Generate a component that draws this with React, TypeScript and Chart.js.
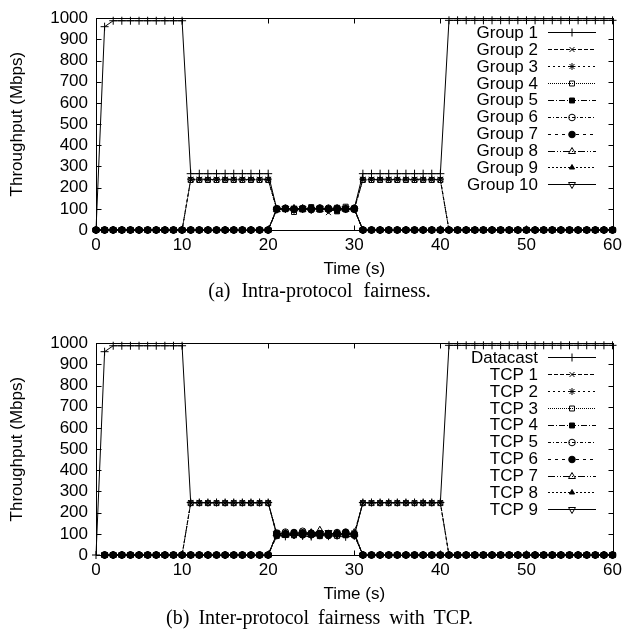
import React, { useEffect, useRef } from 'react';
import { Chart, registerables } from 'chart.js';
import { drawPoint } from 'chart.js/helpers';

Chart.register(...registerables);

// ---------- data ----------
const TIME = [
  0, 1, 2, 3, 4, 5, 6, 7, 8, 9, 10,
  11, 12, 13, 14, 15, 16, 17, 18, 19, 20,
  21, 22, 23, 24, 25, 26, 27, 28, 29, 30,
  31, 32, 33, 34, 35, 36, 37, 38, 39, 40,
  41, 42, 43, 44, 45, 46, 47, 48, 49, 50,
  51, 52, 53, 54, 55, 56, 57, 58, 59, 60,
];
const X_TICKS = [0, 10, 20, 30, 40, 50, 60];
const Y_TICKS = [0, 100, 200, 300, 400, 500, 600, 700, 800, 900, 1000];

const TOP_LABELS = ['Group 1', 'Group 2', 'Group 3', 'Group 4', 'Group 5', 'Group 6', 'Group 7', 'Group 8', 'Group 9', 'Group 10'];
const BOTTOM_LABELS = ['Datacast', 'TCP 1', 'TCP 2', 'TCP 3', 'TCP 4', 'TCP 5', 'TCP 6', 'TCP 7', 'TCP 8', 'TCP 9'];

// (a) Intra-protocol fairness, t = 0..60
const GROUP_1 = [
  0, 960, 988, 988, 988, 988, 988, 988, 988, 988, 988,
  266, 266, 266, 266, 266, 266, 266, 266, 266, 266,
  98, 100, 97, 101, 99, 102, 98, 100, 99, 101,
  266, 266, 266, 266, 266, 266, 266, 266, 266, 266,
  990, 990, 990, 990, 990, 990, 990, 990, 990, 990,
  990, 990, 990, 990, 990, 990, 990, 990, 990, 990,
];
const GROUP_2 = [
  0, 0, 0, 0, 0, 0, 0, 0, 0, 0, 0,
  238, 238, 238, 238, 238, 238, 238, 238, 238, 238,
  100, 97, 103, 96, 101, 99, 82, 103, 98, 100,
  238, 238, 238, 238, 238, 238, 238, 238, 238, 238,
  0, 0, 0, 0, 0, 0, 0, 0, 0, 0,
  0, 0, 0, 0, 0, 0, 0, 0, 0, 0,
];
const GROUP_3 = [
  0, 0, 0, 0, 0, 0, 0, 0, 0, 0, 0,
  240, 240, 240, 240, 240, 240, 240, 240, 240, 240,
  102, 99, 98, 104, 97, 101, 100, 96, 103, 99,
  240, 240, 240, 240, 240, 240, 240, 240, 240, 240,
  0, 0, 0, 0, 0, 0, 0, 0, 0, 0,
  0, 0, 0, 0, 0, 0, 0, 0, 0, 0,
];
const GROUP_4 = [
  0, 0, 0, 0, 0, 0, 0, 0, 0, 0, 0,
  236, 236, 236, 236, 236, 236, 236, 236, 236, 236,
  97, 102, 85, 99, 103, 98, 101, 105, 110, 97,
  236, 236, 236, 236, 236, 236, 236, 236, 236, 236,
  0, 0, 0, 0, 0, 0, 0, 0, 0, 0,
  0, 0, 0, 0, 0, 0, 0, 0, 0, 0,
];
const GROUP_5 = [
  0, 0, 0, 0, 0, 0, 0, 0, 0, 0, 0,
  0, 0, 0, 0, 0, 0, 0, 0, 0, 0,
  101, 98, 100, 97, 108, 96, 99, 88, 97, 102,
  0, 0, 0, 0, 0, 0, 0, 0, 0, 0,
  0, 0, 0, 0, 0, 0, 0, 0, 0, 0,
  0, 0, 0, 0, 0, 0, 0, 0, 0, 0,
];
const GROUP_6 = [
  0, 0, 0, 0, 0, 0, 0, 0, 0, 0, 0,
  0, 0, 0, 0, 0, 0, 0, 0, 0, 0,
  99, 101, 96, 102, 98, 100, 103, 97, 101, 98,
  0, 0, 0, 0, 0, 0, 0, 0, 0, 0,
  0, 0, 0, 0, 0, 0, 0, 0, 0, 0,
  0, 0, 0, 0, 0, 0, 0, 0, 0, 0,
];
const GROUP_7 = [
  0, 0, 0, 0, 0, 0, 0, 0, 0, 0, 0,
  0, 0, 0, 0, 0, 0, 0, 0, 0, 0,
  100, 103, 99, 100, 96, 104, 98, 101, 99, 103,
  0, 0, 0, 0, 0, 0, 0, 0, 0, 0,
  0, 0, 0, 0, 0, 0, 0, 0, 0, 0,
  0, 0, 0, 0, 0, 0, 0, 0, 0, 0,
];
const GROUP_8 = [
  0, 0, 0, 0, 0, 0, 0, 0, 0, 0, 0,
  0, 0, 0, 0, 0, 0, 0, 0, 0, 0,
  96, 100, 102, 98, 101, 97, 100, 102, 98, 100,
  0, 0, 0, 0, 0, 0, 0, 0, 0, 0,
  0, 0, 0, 0, 0, 0, 0, 0, 0, 0,
  0, 0, 0, 0, 0, 0, 0, 0, 0, 0,
];
const GROUP_9 = [
  0, 0, 0, 0, 0, 0, 0, 0, 0, 0, 0,
  0, 0, 0, 0, 0, 0, 0, 0, 0, 0,
  103, 97, 101, 99, 100, 98, 102, 99, 100, 97,
  0, 0, 0, 0, 0, 0, 0, 0, 0, 0,
  0, 0, 0, 0, 0, 0, 0, 0, 0, 0,
  0, 0, 0, 0, 0, 0, 0, 0, 0, 0,
];
const GROUP_10 = [
  0, 0, 0, 0, 0, 0, 0, 0, 0, 0, 0,
  0, 0, 0, 0, 0, 0, 0, 0, 0, 0,
  98, 102, 99, 101, 97, 103, 97, 100, 102, 99,
  0, 0, 0, 0, 0, 0, 0, 0, 0, 0,
  0, 0, 0, 0, 0, 0, 0, 0, 0, 0,
  0, 0, 0, 0, 0, 0, 0, 0, 0, 0,
];

// (b) Inter-protocol fairness with TCP, t = 0..60
const DATACAST = [
  0, 960, 988, 988, 988, 988, 988, 988, 988, 988, 988,
  248, 248, 248, 248, 248, 248, 248, 248, 248, 248,
  92, 88, 95, 90, 87, 93, 89, 91, 86, 90,
  248, 248, 248, 248, 248, 248, 248, 248, 248, 248,
  990, 990, 990, 990, 990, 990, 990, 990, 990, 990,
  990, 990, 990, 990, 990, 990, 990, 990, 990, 990,
];
const TCP_1 = [
  null, 0, 0, 0, 0, 0, 0, 0, 0, 0, 0,
  246, 246, 246, 246, 246, 246, 246, 246, 246, 246,
  100, 96, 104, 98, 93, 101, 97, 103, 95, 99,
  246, 246, 246, 246, 246, 246, 246, 246, 246, 246,
  0, 0, 0, 0, 0, 0, 0, 0, 0, 0,
  0, 0, 0, 0, 0, 0, 0, 0, 0, 0,
];
const TCP_2 = [
  null, 0, 0, 0, 0, 0, 0, 0, 0, 0, 0,
  247, 247, 247, 247, 247, 247, 247, 247, 247, 247,
  95, 103, 99, 92, 106, 97, 101, 94, 100, 104,
  247, 247, 247, 247, 247, 247, 247, 247, 247, 247,
  0, 0, 0, 0, 0, 0, 0, 0, 0, 0,
  0, 0, 0, 0, 0, 0, 0, 0, 0, 0,
];
const TCP_3 = [
  null, 0, 0, 0, 0, 0, 0, 0, 0, 0, 0,
  245, 245, 245, 245, 245, 245, 245, 245, 245, 245,
  105, 98, 93, 102, 99, 104, 96, 90, 103, 97,
  245, 245, 245, 245, 245, 245, 245, 245, 245, 245,
  0, 0, 0, 0, 0, 0, 0, 0, 0, 0,
  0, 0, 0, 0, 0, 0, 0, 0, 0, 0,
];
const TCP_4 = [
  null, 0, 0, 0, 0, 0, 0, 0, 0, 0, 0,
  0, 0, 0, 0, 0, 0, 0, 0, 0, 0,
  90, 94, 101, 107, 95, 89, 104, 99, 93, 101,
  0, 0, 0, 0, 0, 0, 0, 0, 0, 0,
  0, 0, 0, 0, 0, 0, 0, 0, 0, 0,
  0, 0, 0, 0, 0, 0, 0, 0, 0, 0,
];
const TCP_5 = [
  null, 0, 0, 0, 0, 0, 0, 0, 0, 0, 0,
  0, 0, 0, 0, 0, 0, 0, 0, 0, 0,
  103, 108, 97, 112, 100, 94, 99, 106, 98, 93,
  0, 0, 0, 0, 0, 0, 0, 0, 0, 0,
  0, 0, 0, 0, 0, 0, 0, 0, 0, 0,
  0, 0, 0, 0, 0, 0, 0, 0, 0, 0,
];
const TCP_6 = [
  null, 0, 0, 0, 0, 0, 0, 0, 0, 0, 0,
  0, 0, 0, 0, 0, 0, 0, 0, 0, 0,
  97, 101, 106, 95, 103, 99, 92, 101, 108, 96,
  0, 0, 0, 0, 0, 0, 0, 0, 0, 0,
  0, 0, 0, 0, 0, 0, 0, 0, 0, 0,
  0, 0, 0, 0, 0, 0, 0, 0, 0, 0,
];
const TCP_7 = [
  null, 0, 0, 0, 0, 0, 0, 0, 0, 0, 0,
  0, 0, 0, 0, 0, 0, 0, 0, 0, 0,
  99, 93, 102, 104, 97, 117, 100, 95, 102, 106,
  0, 0, 0, 0, 0, 0, 0, 0, 0, 0,
  0, 0, 0, 0, 0, 0, 0, 0, 0, 0,
  0, 0, 0, 0, 0, 0, 0, 0, 0, 0,
];
const TCP_8 = [
  null, 0, 0, 0, 0, 0, 0, 0, 0, 0, 0,
  0, 0, 0, 0, 0, 0, 0, 0, 0, 0,
  94, 106, 100, 97, 110, 102, 95, 108, 97, 103,
  0, 0, 0, 0, 0, 0, 0, 0, 0, 0,
  0, 0, 0, 0, 0, 0, 0, 0, 0, 0,
  0, 0, 0, 0, 0, 0, 0, 0, 0, 0,
];
const TCP_9 = [
  null, 0, 0, 0, 0, 0, 0, 0, 0, 0, 0,
  0, 0, 0, 0, 0, 0, 0, 0, 0, 0,
  101, 99, 95, 103, 93, 100, 106, 97, 101, 95,
  0, 0, 0, 0, 0, 0, 0, 0, 0, 0,
  0, 0, 0, 0, 0, 0, 0, 0, 0, 0,
  0, 0, 0, 0, 0, 0, 0, 0, 0, 0,
];

const TOP_SERIES = [GROUP_1, GROUP_2, GROUP_3, GROUP_4, GROUP_5, GROUP_6, GROUP_7, GROUP_8, GROUP_9, GROUP_10];
const BOTTOM_SERIES = [DATACAST, TCP_1, TCP_2, TCP_3, TCP_4, TCP_5, TCP_6, TCP_7, TCP_8, TCP_9];

// ---------- styles (gnuplot-like line types) ----------
const LINE_STYLES = [
  { pointStyle: 'cross', filled: false, dash: [], radius: 4, rotation: 0 },
  { pointStyle: 'crossRot', filled: false, dash: [4, 2], radius: 3.5, rotation: 0 },
  { pointStyle: 'star', filled: false, dash: [2, 3], radius: 3.5, rotation: 0 },
  { pointStyle: 'rect', filled: false, dash: [1, 1], radius: 3.5, rotation: 0 },
  { pointStyle: 'rect', filled: true, dash: [6, 2, 1, 2], radius: 3.5, rotation: 0 },
  { pointStyle: 'circle', filled: false, dash: [3, 2, 1, 2], radius: 3.3, rotation: 0 },
  { pointStyle: 'circle', filled: true, dash: [3, 4], radius: 3.3, rotation: 0 },
  { pointStyle: 'triangle', filled: false, dash: [7, 2, 1, 2, 1, 2], radius: 4, rotation: 0 },
  { pointStyle: 'triangle', filled: true, dash: [2, 2], radius: 3, rotation: 0 },
  { pointStyle: 'triangle', filled: false, dash: [], radius: 4, rotation: 180 },
];

const SANS = "'Liberation Sans', Arial, sans-serif";
const SERIF = "'Liberation Serif', 'Times New Roman', serif";

const framePlugin = {
  id: 'gnuFrame',
  beforeDatasetsDraw(chart: any) {
    const { ctx, chartArea: a, scales } = chart;
    ctx.save();
    ctx.strokeStyle = '#000';
    ctx.lineWidth = 1;
    ctx.setLineDash([]);
    const L = Math.round(a.left) + 0.5;
    const R = Math.round(a.right) + 0.5;
    const T = Math.round(a.top) + 0.5;
    const B = Math.round(a.bottom) + 0.5;
    ctx.strokeRect(L, T, R - L, B - T);
    ctx.beginPath();
    scales.x.ticks.forEach((t: any) => {
      const x = Math.round(scales.x.getPixelForValue(t.value)) + 0.5;
      ctx.moveTo(x, B); ctx.lineTo(x, B - 5);
      ctx.moveTo(x, T); ctx.lineTo(x, T + 5);
    });
    scales.y.ticks.forEach((t: any) => {
      const y = Math.round(scales.y.getPixelForValue(t.value)) + 0.5;
      ctx.moveTo(L, y); ctx.lineTo(L + 5, y);
      ctx.moveTo(R, y); ctx.lineTo(R - 5, y);
    });
    ctx.stroke();
    ctx.restore();
  },
};

const keyPlugin = {
  id: 'gnuKey',
  afterDatasetsDraw(chart: any) {
    const { ctx, chartArea: a } = chart;
    ctx.save();
    ctx.font = `17px ${SANS}`;
    ctx.textAlign = 'right';
    ctx.textBaseline = 'middle';
    chart.data.datasets.forEach((ds: any, i: number) => {
      const st = LINE_STYLES[i];
      const y = a.top + 14 + i * 16.9;
      ctx.fillStyle = '#000';
      ctx.fillText(ds.label, 538, y + 1);
      ctx.strokeStyle = '#000';
      ctx.lineWidth = 1;
      ctx.setLineDash(st.dash);
      ctx.beginPath();
      ctx.moveTo(548, Math.round(y) + 0.5);
      ctx.lineTo(596, Math.round(y) + 0.5);
      ctx.stroke();
      ctx.setLineDash([]);
      ctx.fillStyle = st.filled ? '#000' : 'rgba(0,0,0,0)';
      drawPoint(ctx, { pointStyle: st.pointStyle, radius: st.radius, rotation: st.rotation, borderWidth: 1 } as any, 572, Math.round(y) + 0.5);
    });
    ctx.restore();
  },
};

function makeConfig(labels: string[], series: (number | null)[][], padBottom: number) {
  const n = series.length;
  return {
    type: 'line' as const,
    data: {
      labels: TIME,
      datasets: series.map((values, i) => {
        const st = LINE_STYLES[i];
        return {
          label: labels[i],
          data: values,
          order: n - i,
          borderColor: '#000',
          borderWidth: 1,
          borderDash: st.dash,
          tension: 0,
          fill: false,
          clip: false as any,
          spanGaps: false,
          pointStyle: st.pointStyle,
          pointRotation: st.rotation,
          pointRadius: st.radius,
          pointBorderWidth: 1,
          pointBorderColor: '#000',
          pointBackgroundColor: st.filled ? '#000' : 'rgba(0,0,0,0)',
        };
      }),
    },
    options: {
      animation: false as const,
      responsive: false,
      devicePixelRatio: 1,
      events: [],
      layout: { padding: { left: 0, right: 11, top: 13, bottom: padBottom } },
      plugins: { legend: { display: false }, tooltip: { enabled: false }, title: { display: false } },
      scales: {
        x: {
          type: 'linear' as const,
          min: 0,
          max: 60,
          afterBuildTicks(s: any) { s.ticks = X_TICKS.map((v) => ({ value: v })); },
          ticks: {
            color: '#000', font: { family: SANS, size: 17 }, padding: 5, maxRotation: 0, autoSkip: false,
            callback: (v: any) => String(v),
          },
          grid: { display: false, drawTicks: false },
          border: { display: false },
          title: { display: true, text: 'Time (s)', color: '#000', font: { family: SANS, size: 17 }, padding: { top: 0, bottom: 0 } },
          afterFit(s: any) { s.height = 50; },
        },
        y: {
          type: 'linear' as const,
          min: 0,
          max: 1000,
          afterBuildTicks(s: any) { s.ticks = Y_TICKS.map((v) => ({ value: v })); },
          ticks: {
            color: '#000', font: { family: SANS, size: 17 }, padding: 8, autoSkip: false,
            callback: (v: any) => String(v),
          },
          grid: { display: false, drawTicks: false },
          border: { display: false },
          title: { display: true, text: 'Throughput (Mbps)', color: '#000', font: { family: SANS, size: 17 }, padding: { top: 7, bottom: 0 } },
          afterFit(s: any) { s.width = 96; },
        },
      },
    },
    plugins: [framePlugin, keyPlugin],
  };
}

export default function App() {
  const topRef = useRef<HTMLCanvasElement>(null);
  const botRef = useRef<HTMLCanvasElement>(null);

  useEffect(() => {
    const c1 = new Chart(topRef.current as HTMLCanvasElement, makeConfig(TOP_LABELS, TOP_SERIES, 45) as any);
    const c2 = new Chart(botRef.current as HTMLCanvasElement, makeConfig(BOTTOM_LABELS, BOTTOM_SERIES, 28) as any);
    return () => { c1.destroy(); c2.destroy(); };
  }, []);

  const capStyle: React.CSSProperties = {
    position: 'absolute', left: 6, width: 627, textAlign: 'center',
    fontFamily: SERIF, fontSize: 20, lineHeight: '20px', color: '#000', whiteSpace: 'nowrap',
  };

  return (
    <div style={{ position: 'absolute', left: 0, top: 0, width: 627, height: 633, background: '#fff', overflow: 'hidden' }}>
      <canvas ref={topRef} width={627} height={325} style={{ position: 'absolute', left: 0, top: 0, width: 627, height: 325 }} />
      <canvas ref={botRef} width={627} height={308} style={{ position: 'absolute', left: 0, top: 325, width: 627, height: 308 }} />
      <div style={{ ...capStyle, top: 280, wordSpacing: 6 }}>(a) Intra-protocol fairness.</div>
      <div style={{ ...capStyle, top: 607, wordSpacing: 4 }}>(b) Inter-protocol fairness with TCP.</div>
    </div>
  );
}
